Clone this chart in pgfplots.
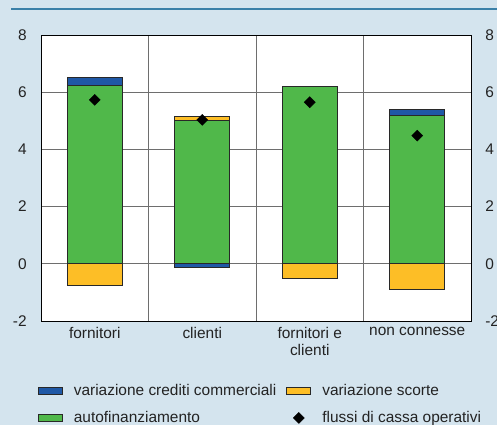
\documentclass[border=0pt]{standalone}
\usepackage{pgfplots}
\pgfplotsset{compat=1.18}
\usepackage{fontspec}
\setmainfont{Liberation Sans}
\definecolor{bg}{RGB}{212,228,238}
\definecolor{topline}{RGB}{58,128,168}
\definecolor{cblue}{RGB}{31,88,166}
\definecolor{corange}{RGB}{253,190,38}
\definecolor{cgreen}{RGB}{80,184,74}
\definecolor{edge}{RGB}{40,40,40}
\definecolor{gridc}{RGB}{110,110,110}
\definecolor{txt}{RGB}{35,35,35}
\pgfplotsset{
  mybar/.style={ybar, bar shift=0pt, bar width=0.51, draw=edge, line width=0.9bp,
    legend image code/.code={\draw[##1,draw=edge,line width=0.9bp] (0bp,-3.5bp) rectangle (24bp,3.5bp);}},
  mydiam/.style={only marks, mark=square*, mark size=3.9bp, mark options={rotate=45, fill=black, draw=black},
    legend image code/.code={\draw[mark repeat=2,mark phase=2,##1] plot coordinates {(0bp,0bp) (12bp,0bp) (24bp,0bp)};}},
}
\begin{document}
\fontsize{15.5}{17}\selectfont
\color{txt}
\begin{tikzpicture}
\useasboundingbox (0,0) rectangle (497bp,425bp);
\fill[bg] (0,0) rectangle (497bp,425bp);
\draw[topline, line width=2bp] (11bp,415.5bp) -- (497bp,415.5bp);
\begin{axis}[
  at={(41bp,104bp)}, anchor=south west,
  scale only axis, width=430bp, height=286bp,
  xmin=-0.5, xmax=3.5, ymin=-2, ymax=8,
  ytick={-2,0,2,4,6,8},
  xtick={0,1,2,3},
  xticklabels={fornitori, clienti, {fornitori e\\clienti}, non connesse},
  xticklabel style={align=center, yshift=-1bp},
  minor xtick={0.5,1.5,2.5},
  xminorgrids, ymajorgrids,
  grid style={gridc, line width=0.9bp},
  minor grid style={gridc, line width=0.9bp},
  major tick length=0pt, minor tick length=0pt,
  axis line style={black, line width=1bp},
  axis background/.style={fill=white},
  /pgf/number format/assume math mode=true,
  yticklabel style={xshift=-9bp},
  legend columns=2,
  legend cell align=left,
  legend style={draw=none, fill=none, at={(-0.0075,-0.215)}, anchor=north west,
    inner sep=0pt, row sep=9bp,
    /tikz/every odd column/.append style={column sep=9bp},
    /tikz/every even column/.append style={column sep=8bp},
    nodes={inner sep=2bp}},
]
\addplot[mybar, fill=cblue] coordinates {(0,6.50) (1,-0.12) (3,5.41)};
\addlegendentry{variazione crediti commerciali}
\addplot[mybar, fill=corange] coordinates {(0,-0.76) (1,5.15) (2,-0.52) (3,-0.91)};
\addlegendentry{variazione scorte}
\addplot[mybar, fill=cgreen] coordinates {(0,6.25) (1,5.0) (2,6.2) (3,5.19)};
\addlegendentry{autofinanziamento}
\addplot[mydiam] coordinates {(0,5.73) (1,5.03) (2,5.65) (3,4.48)};
\addlegendentry{flussi di cassa operativi}
\end{axis}
\begin{axis}[
  at={(41bp,104bp)}, anchor=south west,
  scale only axis, width=430bp, height=286bp,
  xmin=-0.5, xmax=3.5, ymin=-2, ymax=8,
  ytick={-2,0,2,4,6,8},
  axis x line=none, axis y line*=right,
  axis line style={draw=none},
  major tick length=0pt,
  /pgf/number format/assume math mode=true,
  yticklabel style={xshift=9bp},
]
\end{axis}
\end{tikzpicture}
\end{document}
